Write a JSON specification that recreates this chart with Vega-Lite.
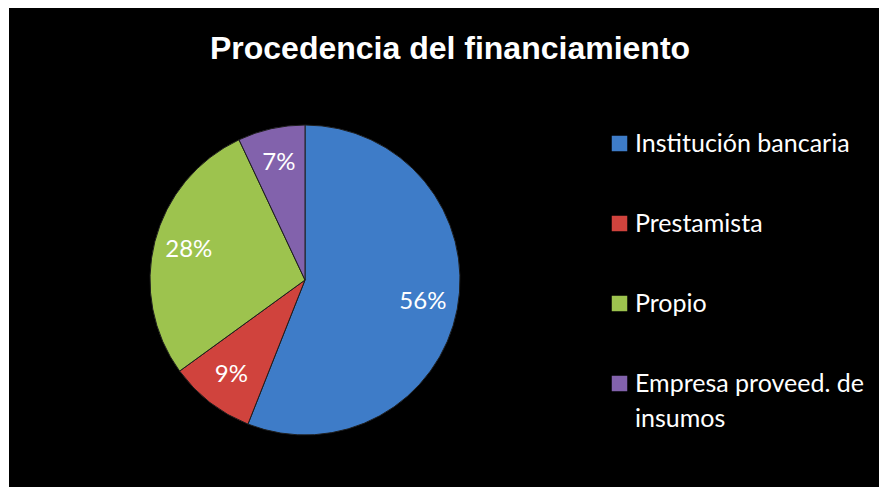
{
  "$schema": "https://vega.github.io/schema/vega-lite/v6.json",
  "width": 870,
  "height": 479,
  "autosize": {"type": "none"},
  "padding": {"left": 9, "top": 8, "right": 0, "bottom": 0},
  "background": "white",
  "config": {
    "view": {"fill": "black", "stroke": null},
    "style": {"guide-label": {"lineHeight": 35}},
    "legend": {
      "orient": "none",
      "legendX": 598,
      "legendY": 123,
      "labelColor": "white",
      "labelFont": "Lato",
      "labelFontSize": 25,
      "symbolType": "square",
      "symbolSize": 240,
      "symbolStrokeWidth": 0,
      "rowPadding": 54,
      "labelLimit": 400,
      "labelOffset": 3
    }
  },
  "title": {
    "text": "Procedencia del financiamiento",
    "color": "white",
    "font": "Liberation Sans",
    "fontSize": 32,
    "fontWeight": "bold",
    "anchor": "middle",
    "frame": "group",
    "offset": -58,
    "dx": 6
  },
  "data": {
    "values": [
      {"fuente": "Institución bancaria", "pct": 56, "orden": 1, "etiqueta": "56%"},
      {"fuente": "Prestamista", "pct": 9, "orden": 2, "etiqueta": "9%"},
      {"fuente": "Propio", "pct": 28, "orden": 3, "etiqueta": "28%"},
      {"fuente": "Empresa proveed. de insumos", "pct": 7, "orden": 4, "etiqueta": "7%"}
    ]
  },
  "encoding": {
    "theta": {"field": "pct", "type": "quantitative", "stack": true},
    "order": {"field": "orden", "type": "quantitative"},
    "x": {"value": 296},
    "y": {"value": 272}
  },
  "layer": [
    {
      "mark": {"type": "arc", "outerRadius": 155, "stroke": "#1e1e1e", "strokeWidth": 1},
      "encoding": {
        "color": {
          "field": "fuente",
          "type": "nominal",
          "scale": {
            "domain": ["Institución bancaria", "Prestamista", "Propio", "Empresa proveed. de insumos"],
            "range": ["#3E7CC8", "#D0433D", "#9DC34E", "#8262AC"]
          },
          "legend": {
            "title": null,
            "labelExpr": "datum.label == 'Empresa proveed. de insumos' ? ['Empresa proveed. de', 'insumos'] : datum.label"
          }
        }
      }
    },
    {
      "mark": {"type": "text", "radius": 120, "font": "Lato", "fontSize": 24, "color": "white"},
      "encoding": {
        "text": {"field": "etiqueta", "type": "nominal"}
      }
    }
  ]
}
